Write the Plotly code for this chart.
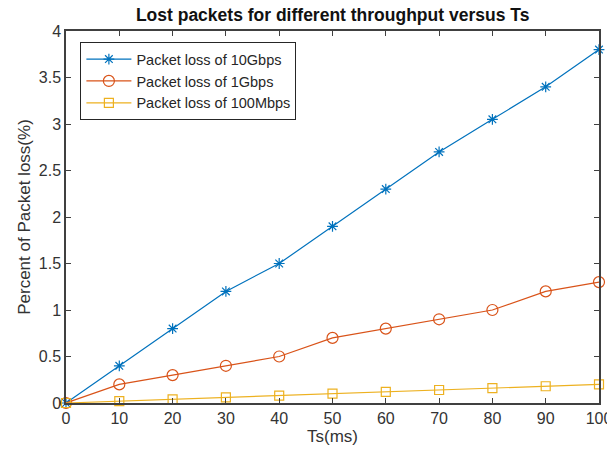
import plotly.graph_objects as go

ts = [0, 10, 20, 30, 40, 50, 60, 70, 80, 90, 100]
loss_10g = [0, 0.4, 0.8, 1.2, 1.5, 1.9, 2.3, 2.7, 3.05, 3.4, 3.8]
loss_1g = [0, 0.2, 0.3, 0.4, 0.5, 0.7, 0.8, 0.9, 1.0, 1.2, 1.3]
loss_100m = [0, 0.02, 0.04, 0.06, 0.08, 0.1, 0.12, 0.14, 0.16, 0.18, 0.2]

names = ["Packet loss of 10Gbps", "Packet loss of 1Gbps", "Packet loss of 100Mbps"]
colors = ["#0072BD", "#D95319", "#EDB120"]
symbols = ["asterisk-open", "circle-open", "square-open"]
sizes = [9, 11, 9]

x_ticks = [0, 10, 20, 30, 40, 50, 60, 70, 80, 90, 100]
y_ticks = [0, 0.5, 1, 1.5, 2, 2.5, 3, 3.5, 4]

fig = go.Figure()
for ys, nm, c, s, sz in zip([loss_10g, loss_1g, loss_100m], names, colors, symbols, sizes):
    fig.add_trace(go.Scatter(
        x=ts, y=ys, name=nm, mode="lines+markers",
        line=dict(color=c, width=1.2),
        marker=dict(symbol=s, size=sz, color=c, line=dict(color=c, width=1.2)),
        cliponaxis=False,
    ))

axis_col = "#404040"
fig.update_layout(
    width=607, height=450,
    margin=dict(l=66, r=8, t=31, b=47),
    paper_bgcolor="white", plot_bgcolor="white",
    font=dict(family="Liberation Sans, Arial, sans-serif", size=16, color="#333333"),
    title=dict(text="<b>Lost packets for different throughput versus Ts</b>",
               x=0.548, xanchor="center", y=0.968, yanchor="middle",
               font=dict(size=17.5, color="#111111")),
    xaxis=dict(range=[0, 100], tickvals=x_ticks, ticks="inside", ticklen=5,
               tickcolor=axis_col, showline=True, linecolor=axis_col, linewidth=1.5,
               mirror="ticks", showgrid=False, zeroline=False,
               ticklabeloverflow="allow", automargin=False,
               tickfont=dict(size=16, color="#333333"),
               title=dict(text="Ts(ms)", font=dict(size=17, color="#333333"), standoff=0)),
    yaxis=dict(range=[0, 4], tickvals=y_ticks, ticks="inside", ticklen=5,
               tickcolor=axis_col, showline=True, linecolor=axis_col, linewidth=1.5,
               mirror="ticks", showgrid=False, zeroline=False, automargin=False,
               tickfont=dict(size=16, color="#333333"),
               title=dict(text="Percent of Packet loss(%)", font=dict(size=17, color="#333333"), standoff=4)),
    legend=dict(x=0.027, y=0.97, xanchor="left", yanchor="top",
                bgcolor="white", bordercolor="#262626", borderwidth=1,
                font=dict(size=14.5, color="#262626"), tracegroupgap=0,
                itemwidth=45),
    showlegend=True,
)

fig.write_html("out.html")
